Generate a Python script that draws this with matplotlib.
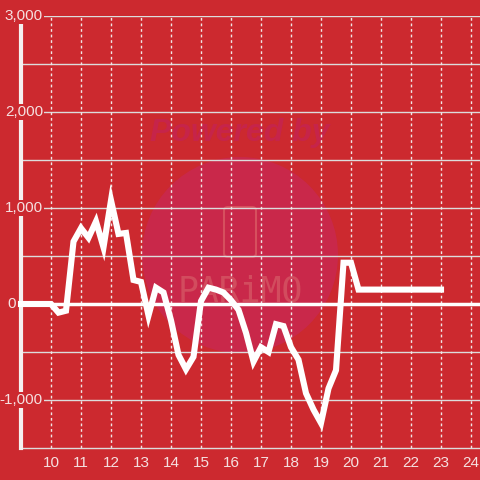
import matplotlib
matplotlib.use("Agg")
from matplotlib import pyplot as plt
from matplotlib.patches import Circle, FancyBboxPatch
from matplotlib.transforms import blended_transform_factory
import numpy as np

# hours (15 minute steps) and values
hours = [9.0, 9.25, 9.5, 9.75, 10.0, 10.25, 10.5, 10.75, 11.0, 11.25, 11.5, 11.75,
         12.0, 12.25, 12.5, 12.75, 13.0, 13.25, 13.5, 13.75, 14.0, 14.25, 14.5, 14.75,
         15.0, 15.25, 15.5, 15.75, 16.0, 16.25, 16.5, 16.75, 17.0, 17.25, 17.5, 17.75,
         18.0, 18.25, 18.5, 18.75, 19.0, 19.25, 19.5, 19.75, 20.0, 20.25, 20.5, 20.75,
         21.0, 21.25, 21.5, 21.75, 22.0, 22.25, 22.5, 22.75, 23.0]
values = [0, 0, 0, 0, 0, -90, -70, 650, 790, 690, 860, 590,
          1080, 730, 740, 250, 230, -120, 170, 120, -170, -530, -680, -550,
          30, 170, 150, 120, 40, -60, -300, -600, -450, -500, -210, -230,
          -450, -580, -930, -1100, -1240, -880, -690, 430, 430, 150, 150, 150,
          150, 150, 150, 150, 150, 150, 150, 150, 150]
xticks = list(range(10, 25))
yticks = [-1000, 0, 1000, 2000, 3000]
ylabels = ['-1,000', '0', '1,000', '2,000', '3,000']

bg = '#cc292f'
txt = '#f5e0e0'
fig = plt.figure(figsize=(4.8, 4.8), dpi=100, facecolor=bg)
ax = fig.add_axes([21/480, 32/480, 459/480, 432/480])
ax.set_facecolor('none')

# watermark
fig.patches.append(Circle((0.5, 1 - 255/480), 98/480, transform=fig.transFigure,
                          facecolor='#c9284a', edgecolor='none', zorder=-2))
fig.patches.append(FancyBboxPatch((224/480, 1 - 257/480), 32/480, 50/480,
                                  boxstyle='round,pad=0,rounding_size=0.008',
                                  transform=fig.transFigure, facecolor='none',
                                  edgecolor='#d6505e', lw=1.5, zorder=-1))
fig.text(0.5, 1 - 133/480, 'Powered by', ha='center', va='center', fontsize=23,
         fontweight='bold', fontstyle='italic', color='#c6244a', zorder=-1,
         family='Liberation Sans')
fig.text(0.5, 1 - 291/480, 'PARiMO', ha='center', va='center', fontsize=25,
         color='#d24c5e', zorder=-1, family='DejaVu Sans Mono')

ax.plot(hours, values, color='white', lw=4.4, solid_joinstyle='miter',
        solid_capstyle='projecting', zorder=5, clip_on=False)

ax.set_xlim(9, 9 + 459/30)
ax.set_ylim(-1500, 3000)

for y in np.arange(-1000, 3001, 500):
    if y == 0:
        ax.axhline(y, color='white', lw=2.5, zorder=3)
    else:
        ax.axhline(y, color='#dcdcdc', lw=1, zorder=2)
for x in xticks:
    ax.axvline(x, color='#f0e6e6', lw=1, ls=(0, (2, 2)), zorder=2)

ax.set_xticks(xticks)
ax.set_yticks(yticks)
ax.set_yticklabels([])
ax.tick_params(axis='both', length=0, labelsize=11, labelcolor=txt)
ax.tick_params(axis='x', pad=6)
for lab in ax.get_xticklabels():
    lab.set_family('Liberation Sans')

# y labels drawn over the axis line
tr = blended_transform_factory(fig.transFigure, ax.transData)
for v, s in zip(yticks, ylabels):
    xr = 16 if v == 0 else 43
    ax.text(xr/480, v, s, transform=tr, ha='right', va='center', fontsize=11,
            color=txt, family='Liberation Sans', zorder=6, clip_on=False,
            bbox=dict(facecolor=bg, edgecolor='none', pad=1))

for s in ['top', 'right']:
    ax.spines[s].set_visible(False)
ax.spines['left'].set_color('#f5f0f0')
ax.spines['left'].set_linewidth(3)
ax.spines['left'].set_zorder(4)
ax.spines['bottom'].set_color('#dcdcdc')
ax.spines['bottom'].set_linewidth(1)

fig.savefig('out.png', dpi=100, facecolor=bg)
